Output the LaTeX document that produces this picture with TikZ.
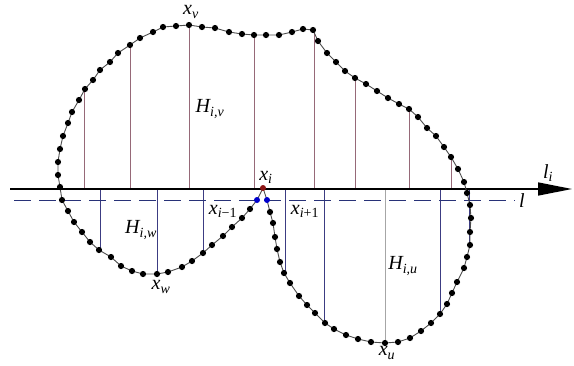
\documentclass[tikz,border=0pt]{standalone}
\usepackage{fontspec}
\setmainfont{Liberation Serif}
\newfontfamily\labfont{Liberation Serif}
\usepackage{tikz}
\usetikzlibrary{arrows.meta}
\definecolor{upcol}{RGB}{150,105,120}
\definecolor{lowcol}{RGB}{60,60,130}
\definecolor{refcol}{RGB}{40,50,120}
\definecolor{xicol}{RGB}{140,20,20}
\tikzset{
  curveline/.style={draw=black!70, line width=0.9pt},
  curvedot/.style={fill=black},
  upline/.style={draw=upcol, line width=0.8pt},
  lowline/.style={draw=lowcol, line width=0.7pt},
  axisline/.style={draw=black, line width=1.5pt, -{Triangle[length=34pt,width=13pt]}},
  refline/.style={draw=refcol, line width=0.8pt, dash pattern=on 17pt off 8pt},
  varlabel/.style={font=\labfont\fontsize{20}{22}\selectfont\itshape, inner sep=1pt},
}
\newcommand{\varsub}[2]{#1\textsubscript{#2}}

\begin{document}
\begin{tikzpicture}[x=1pt, y=-1pt]
  \useasboundingbox (0,0) rectangle (574,365);
  % heights above the line
  \foreach \px/\py in {84/89, 130/45, 189/26, 254/35, 314/31, 355/78, 409/109, 451/157}
    \draw[upline] (\px,189) -- (\px,\py);
  % heights below the line
  \foreach \px/\py in {100/250, 157/274, 203/253, 285/272, 324/322, 440/314, 469/246}
    \draw[lowline] (\px,189) -- (\px,\py);
  \draw[lowline, draw=black!35] (385,189) -- (385,343);
  % reference lines
  \draw[refline] (14,200) -- (515,200);
  \draw[axisline] (10,189) -- (572,189);
  % the closed curve
  \draw[curveline] plot coordinates {(263,188) (267,200) (270,212) (273,223) (275,237) (277,249) (280,262) (284,273) (290,283) (299,296) (307,305) (315,313) (325,323) (334,329) (346,335) (358,339) (371,342) (385,343) (398,342) (410,338) (421,331) (431,323) (440,314) (447,304) (452,293) (457,282) (464,268) (467,257) (470,245) (470,232) (471,218) (470,205) (467,193) (464,182) (458,169) (451,157) (444,147) (436,136) (427,128) (418,117) (409,109) (399,104) (388,98) (377,91) (366,84) (355,78) (345,71) (336,62) (327,53) (318,41) (313,30) (303,29) (292,32) (279,35) (266,35) (254,35) (242,34) (229,32) (215,28) (202,27) (189,25) (176,26) (163,27) (153,32) (140,38) (130,45) (118,53) (110,62) (100,70) (93,80) (85,89) (79,100) (72,112) (68,123) (63,136) (60,149) (58,162) (58,175) (60,187) (62,200) (68,211) (74,222) (82,232) (90,242) (99,250) (111,257) (121,266) (132,271) (143,274) (157,274) (168,272) (182,267) (192,261) (203,253) (212,245) (223,236) (232,227) (242,218) (250,209) (257,200)} -- cycle;
  \foreach \px/\py in {270/212, 273/223, 275/237, 277/249, 280/262, 284/273, 290/283, 299/296, 307/305, 315/313, 325/323, 334/329, 346/335, 358/339, 371/342, 385/343, 398/342, 410/338, 421/331, 431/323, 440/314, 447/304, 452/293, 457/282, 464/268, 467/257, 470/245, 470/232, 471/218, 470/205, 467/193, 464/182, 458/169, 451/157, 444/147, 436/136, 427/128, 418/117, 409/109, 399/104, 388/98, 377/91, 366/84, 355/78, 345/71, 336/62, 327/53, 318/41, 313/30, 303/29, 292/32, 279/35, 266/35, 254/35, 242/34, 229/32, 215/28, 202/27, 189/25, 176/26, 163/27, 153/32, 140/38, 130/45, 118/53, 110/62, 100/70, 93/80, 85/89, 79/100, 72/112, 68/123, 63/136, 60/149, 58/162, 58/175, 60/187, 62/200, 68/211, 74/222, 82/232, 90/242, 99/250, 111/257, 121/266, 132/271, 143/274, 157/274, 168/272, 182/267, 192/261, 203/253, 212/245, 223/236, 232/227, 242/218, 250/209}
    \fill[curvedot] (\px,\py) circle (3.1pt);
  \fill[xicol] (263,188) circle (3pt);
  \fill[blue!80!black] (257,200) circle (3pt);
  \fill[blue!80!black] (267,200) circle (3pt);
  % labels
  \node[varlabel] (xv) at (191,12) {\varsub{x}{v}};
  \node[varlabel] (hiv) at (210,109) {\varsub{H}{i,v}};
  \node[varlabel] (xi) at (266,177) {\varsub{x}{i}};
  \node[varlabel] (xim) at (223,211) {\varsub{x}{i\upshape −1}};
  \node[varlabel] (xip) at (305,211) {\varsub{x}{i\upshape +1}};
  \node[varlabel] (hiw) at (141,230) {\varsub{H}{i,w}};
  \node[varlabel] (xw) at (161,287) {\varsub{x}{w}};
  \node[varlabel] (hiu) at (403,266) {\varsub{H}{i,u}};
  \node[varlabel] (xu) at (387,353) {\varsub{x}{u}};
  \node[varlabel] (li) at (548,173) {\varsub{l}{i}};
  \node[varlabel] (lref) at (522,201) {l};
\end{tikzpicture}
\end{document}
